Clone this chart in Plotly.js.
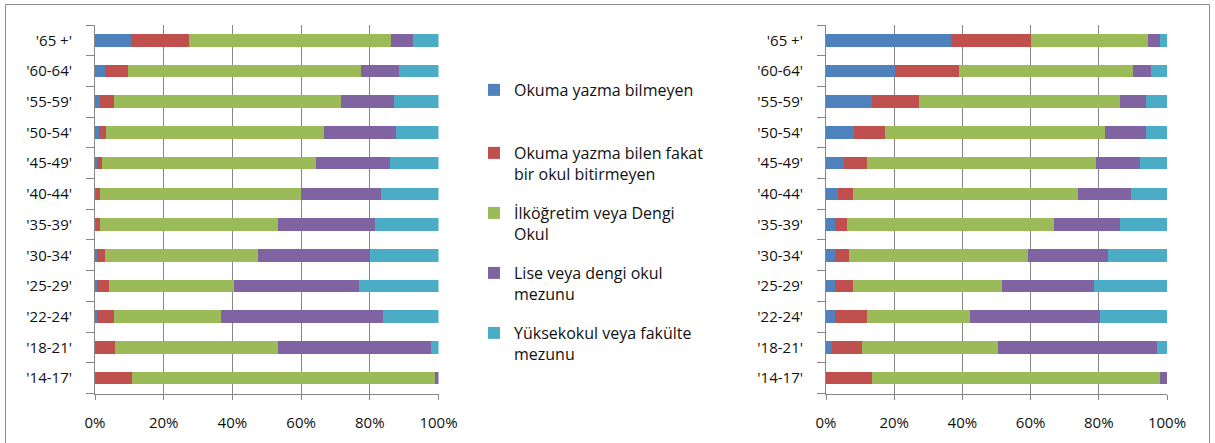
<!DOCTYPE html>
<html><head><meta charset="utf-8">
<script src="https://cdn.plot.ly/plotly-3.0.1.min.js"></script>
<style>html,body{margin:0;padding:0;background:#fff}#chart{width:1215px;height:443px}</style>
</head><body><div id="chart"></div>
<script>
// categories, bottom to top
const categories = ["'14-17'","'18-21'","'22-24'","'25-29'","'30-34'","'35-39'","'40-44'","'45-49'","'50-54'","'55-59'","'60-64'","'65 +'"];
const seriesNames = ["Okuma yazma bilmeyen","Okuma yazma bilen fakat<br>bir okul bitirmeyen","İlköğretim veya Dengi<br>Okul","Lise veya dengi okul<br>mezunu","Yüksekokul veya fakülte<br>mezunu"];
const colors = ["#4F81BD","#C0504D","#9BBB59","#8064A2","#4BACC6"];

// left panel (%)
const leftIlliterate = [0.0, 0.1, 0.6, 0.6, 0.6, 0.3, 0.3, 0.7, 1.1, 1.5, 2.9, 10.4];
const leftLiterateNoSchool = [10.9, 5.8, 4.9, 3.6, 2.3, 1.2, 1.2, 1.2, 2.2, 4.0, 6.6, 17.0];
const leftPrimary = [88.1, 47.4, 31.3, 36.2, 44.6, 51.8, 58.5, 62.5, 63.4, 66.1, 68.0, 58.8];
const leftHighSchool = [1.0, 44.6, 46.9, 36.6, 32.6, 28.2, 23.3, 21.5, 21.0, 15.3, 11.1, 6.4];
const leftUniversity = [0.0, 2.1, 16.3, 23.0, 19.9, 18.5, 16.7, 14.1, 12.3, 13.1, 11.4, 7.4];

// right panel (%)
const rightIlliterate = [0.0, 1.7, 2.6, 2.6, 2.6, 2.6, 3.4, 5.3, 8.1, 13.4, 20.2, 36.8];
const rightLiterateNoSchool = [13.4, 9.0, 9.4, 5.4, 4.1, 3.6, 4.6, 6.7, 9.3, 14.0, 18.8, 23.4];
const rightPrimary = [84.5, 39.6, 30.2, 43.7, 52.5, 60.7, 65.8, 67.2, 64.4, 58.9, 50.9, 34.2];
const rightHighSchool = [2.1, 46.9, 38.2, 27.0, 23.5, 19.4, 15.6, 13.0, 12.1, 7.6, 5.4, 3.5];
const rightUniversity = [0.0, 2.8, 19.6, 21.3, 17.3, 13.7, 10.6, 7.8, 6.1, 6.1, 4.7, 2.1];

const xTicks = [0, 20, 40, 60, 80, 100];
const xTickLabels = ["0%", "20%", "40%", "60%", "80%", "100%"];

const leftData = [leftIlliterate, leftLiterateNoSchool, leftPrimary, leftHighSchool, leftUniversity];
const rightData = [rightIlliterate, rightLiterateNoSchool, rightPrimary, rightHighSchool, rightUniversity];

const W = 1215, H = 443;
const FONT = "Open Sans, Noto Sans, sans-serif";
const legendNames = ["legend","legend2","legend3","legend4","legend5"];
const traces = [];
leftData.forEach((vals, i) => {
  traces.push({type:'bar', orientation:'h', x: vals, y: categories, name: seriesNames[i],
    marker:{color: colors[i], line:{width:0}}, xaxis:'x', yaxis:'y', legend: legendNames[i], hoverinfo:'x+y+name'});
});
rightData.forEach((vals, i) => {
  traces.push({type:'bar', orientation:'h', x: vals, y: categories, name: seriesNames[i],
    marker:{color: colors[i], line:{width:0}}, xaxis:'x2', yaxis:'y2', showlegend:false, hoverinfo:'x+y+name'});
});

const gridColor = "#878787";
function xa(d0, d1, anchor){
  return {domain:[d0/W, d1/W], range:[0,100], anchor: anchor, tickmode:'array', tickvals: xTicks, ticktext: xTickLabels,
    showgrid:true, gridcolor: gridColor, gridwidth:1, zeroline:false,
    showline:true, linecolor: gridColor, linewidth:1, ticks:'outside', ticklen:5, tickcolor: gridColor,
    tickfont:{family: FONT, size:15, color:'#111'}, ticklabelstandoff: 10, fixedrange:true};
}
function ya(anchor){
  return {domain:[1-393.5/H, 1-25/H], anchor: anchor, type:'category', categoryorder:'array', categoryarray: categories,
    showline:true, linecolor: gridColor, linewidth:1, ticks:'outside', ticklen:8, tickcolor: gridColor, tickson:'boundaries',
    showgrid:false, tickfont:{family: FONT, size:15, color:'#111'}, ticklabelstandoff: 19, fixedrange:true};
}

const legendTops = [73, 136, 196, 256, 316];
const layout = {
  width: W, height: H,
  margin:{l:0, r:0, t:0, b:0},
  paper_bgcolor:'#fff', plot_bgcolor:'#fff',
  barmode:'stack', barnorm:'percent', bargap:0.59,
  xaxis: xa(95, 438.5, 'y'),
  yaxis: ya('x'),
  xaxis2: xa(826, 1167, 'y2'),
  yaxis2: ya('x2'),
  shapes:[{type:'rect', xref:'paper', yref:'paper', x0:5.5/W, x1:1209.5/W, y0:-0.1, y1:1-4.5/H,
    line:{color:'#8c8c8c', width:1}, fillcolor:'rgba(0,0,0,0)'}]
};
legendNames.forEach((ln, i) => {
  layout[ln] = {x: 474/W, xanchor:'left', y: 1 - legendTops[i]/H, yanchor:'top', valign:'top',
    bgcolor:'rgba(0,0,0,0)', borderwidth:0, font:{family: FONT, size:16, color:'#111'}};
});

Plotly.newPlot('chart', traces, layout, {displayModeBar:false, staticPlot:true});
</script></body></html>
